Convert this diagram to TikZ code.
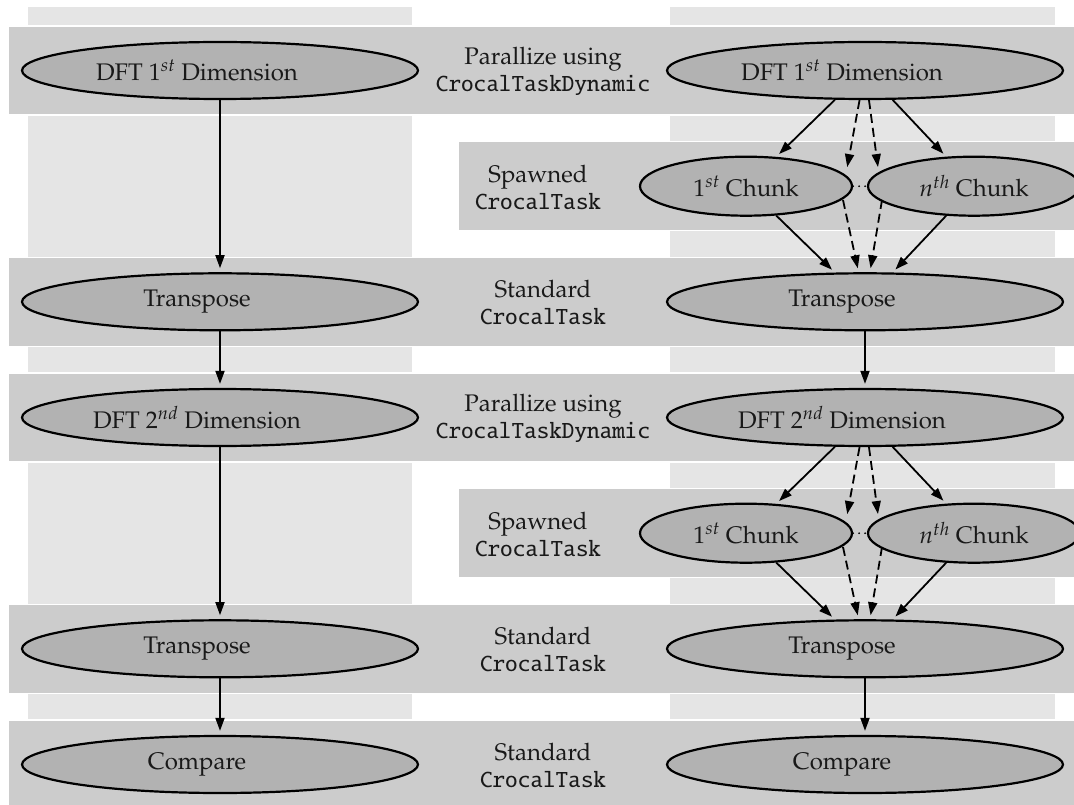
\documentclass[tikz,border=0pt]{standalone}
\usepackage[T1]{fontenc}
\usepackage{mathpazo}
\renewcommand{\ttdefault}{txtt}
\usetikzlibrary{arrows.meta,shapes.geometric}

\definecolor{bandgray}{gray}{0.80}
\definecolor{colgray}{gray}{0.90}
\definecolor{nodegray}{gray}{0.70}
\definecolor{inkgray}{gray}{0.10}
\newcommand{\tasksize}{\fontsize{24}{27}\selectfont}
% class names in typewriter
\newcommand{\cls}[1]{{\ttfamily #1}}
% labels of the wide tasks sit a little left of centre
\newcommand{\wide}[1]{#1\hspace*{46pt}}

\begin{document}
\begin{tikzpicture}[x=1pt,y=-1pt,
  band/.style={fill=bandgray,draw=white,line width=1.2pt},
  lane/.style={fill=colgray},
  task/.style={ellipse,draw=black,line width=2.2pt,fill=nodegray,inner sep=0pt,
    minimum height=57pt,font=\tasksize,text=inkgray},
  bigtask/.style={task,minimum width=396pt},
  chunk/.style={task,minimum width=212pt,minimum height=59pt},
  kind/.style={align=center,font=\tasksize,inner sep=0pt,text=inkgray},
  flow/.style={-{Triangle[length=13pt,width=9pt]},line width=1.8pt,shorten >=4pt},
  hidden/.style={flow,dash pattern=on 9pt off 5pt},
  gapdots/.style={line width=2pt,dash pattern=on 0pt off 6pt,line cap=round}]

\useasboundingbox (0,0) rectangle (1074,805);

% two light lanes, one per variant
\path[lane] (28,7) rectangle (412,805);
\path[lane] (670,7) rectangle (1055,805);

% stage bands
\path[band] (8,26)      rectangle (1080,115);
\path[band] (458,141.7) rectangle (1080,230.7);
\path[band] (8,257.3)   rectangle (1080,346.3);
\path[band] (8,373)     rectangle (1080,462);
\path[band] (458,488.7) rectangle (1080,577.7);
\path[band] (8,604.3)   rectangle (1080,693.3);
\path[band] (8,720)     rectangle (1080,812);

% stage descriptions
\node[kind] (k1) at (543,71.5)  {Parallize using\\\cls{CrocalTaskDynamic}};
\node[kind] (k2) at (538,187.2) {Spawned\\\cls{CrocalTask}};
\node[kind] (k3) at (543,302.8) {Standard\\\cls{CrocalTask}};
\node[kind] (k4) at (543,418.5) {Parallize using\\\cls{CrocalTaskDynamic}};
\node[kind] (k5) at (538,534.2) {Spawned\\\cls{CrocalTask}};
\node[kind] (k6) at (543,649.8) {Standard\\\cls{CrocalTask}};
\node[kind] (k7) at (543,765.5) {Standard\\\cls{CrocalTask}};

% sequential pipeline
\node[bigtask] (l1) at (220,70.5)  {\wide{DFT $1^{st}$ Dimension}};
\node[bigtask] (l2) at (220,301.8) {\wide{Transpose}};
\node[bigtask] (l3) at (220,417.5) {\wide{DFT $2^{nd}$ Dimension}};
\node[bigtask] (l4) at (220,648.8) {\wide{Transpose}};
\node[bigtask] (l5) at (220,764.5) {\wide{Compare}};

\draw[flow] (l1) -- (l2);
\draw[flow] (l2) -- (l3);
\draw[flow] (l3) -- (l4);
\draw[flow] (l4) -- (l5);

% parallel pipeline
\node[bigtask] (r1) at (865,70.5)  {\wide{DFT $1^{st}$ Dimension}};
\node[chunk]   (c1) at (746,186.2) {$1^{st}$ Chunk};
\node[chunk]   (cn) at (974,186.2) {$n^{th}$ Chunk};
\node[bigtask] (r2) at (865,301.8) {\wide{Transpose}};
\node[bigtask] (r3) at (865,417.5) {\wide{DFT $2^{nd}$ Dimension}};
\node[chunk]   (d1) at (746,533.2) {$1^{st}$ Chunk};
\node[chunk]   (dn) at (974,533.2) {$n^{th}$ Chunk};
\node[bigtask] (r4) at (865,648.8) {\wide{Transpose}};
\node[bigtask] (r5) at (865,764.5) {\wide{Compare}};

% the chunks in between, only hinted at
\coordinate (p1in)  at (846.5,171);
\coordinate (p2in)  at (878.5,171);
\coordinate (p1out) at (843,200);
\coordinate (p2out) at (882,200);
\coordinate (q1in)  at (846.5,518);
\coordinate (q2in)  at (878.5,518);
\coordinate (q1out) at (843,547);
\coordinate (q2out) at (882,547);

\draw[flow] (r1) -- (c1);
\draw[flow] (r1) -- (cn);
\draw[hidden] (r1) -- (p1in);
\draw[hidden] (r1) -- (p2in);
\draw[gapdots] (c1) -- (cn);
\draw[flow] (c1) -- (r2);
\draw[flow] (cn) -- (r2);
\draw[hidden] (p1out) -- (r2);
\draw[hidden] (p2out) -- (r2);

\draw[flow] (r2) -- (r3);

\draw[flow] (r3) -- (d1);
\draw[flow] (r3) -- (dn);
\draw[hidden] (r3) -- (q1in);
\draw[hidden] (r3) -- (q2in);
\draw[gapdots] (d1) -- (dn);
\draw[flow] (d1) -- (r4);
\draw[flow] (dn) -- (r4);
\draw[hidden] (q1out) -- (r4);
\draw[hidden] (q2out) -- (r4);

\draw[flow] (r4) -- (r5);
\end{tikzpicture}
\end{document}
